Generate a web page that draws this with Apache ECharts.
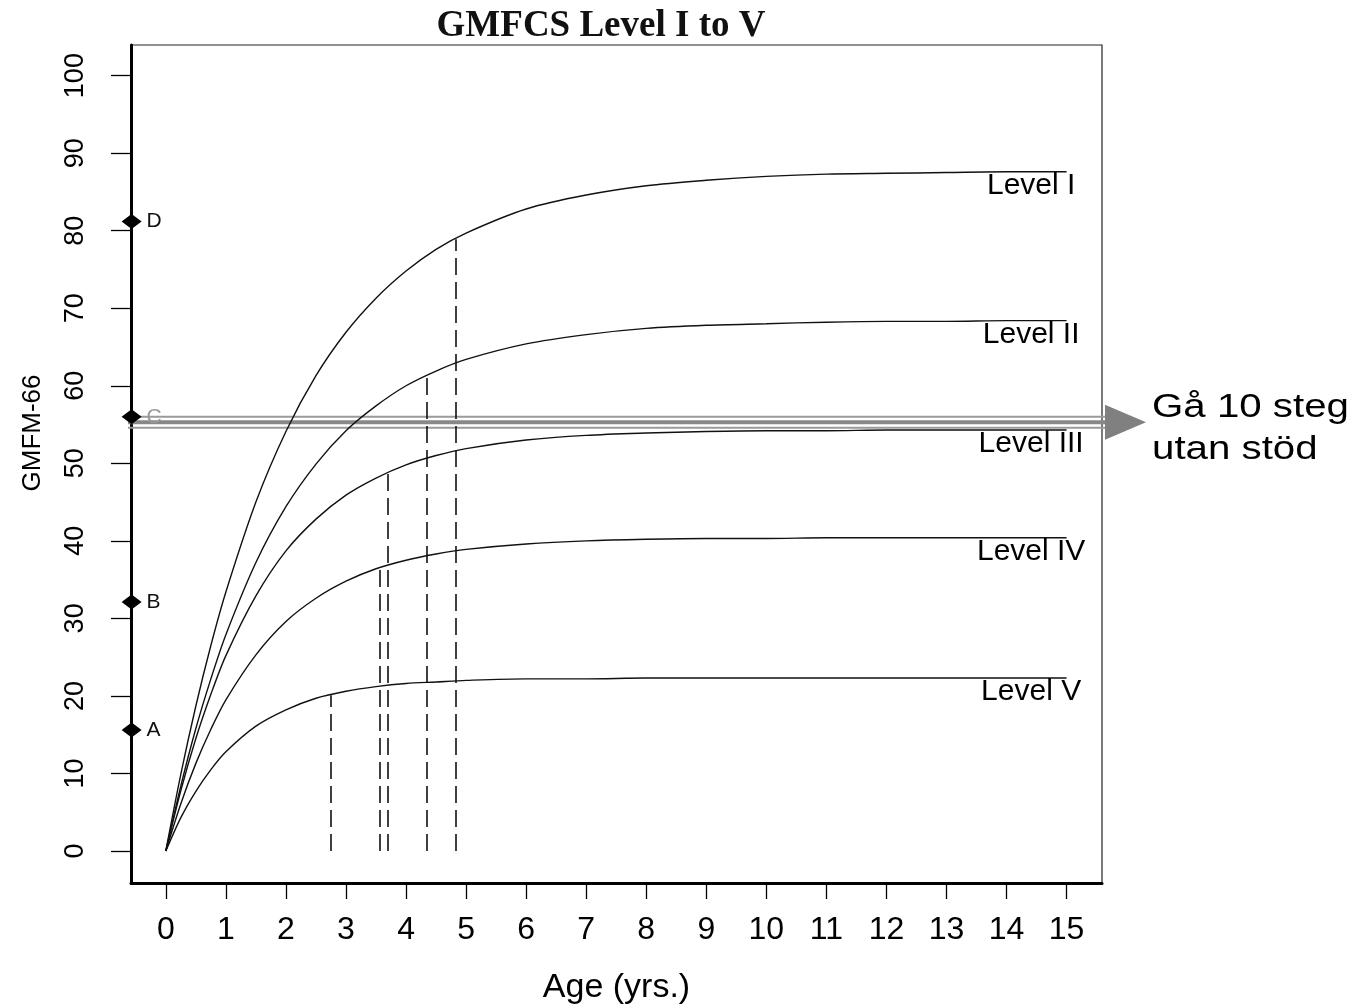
<!DOCTYPE html>
<html>
<head>
<meta charset="utf-8">
<title>GMFCS Level I to V</title>
<script src="https://cdn.jsdelivr.net/npm/echarts@6/dist/echarts.min.js"></script>
<style>
  html, body { margin: 0; padding: 0; background: #fff; }
  #chart { width: 1365px; height: 1004px; }
</style>
</head>
<body>
<div id="chart"></div>
<script>
var ages = [0, 0.25, 0.5, 0.75, 1, 1.5, 2, 2.5, 3, 3.5, 4, 4.5, 5, 6, 7, 8, 9, 10, 11, 12, 13, 14, 15];

// GMFM-66 per GMFCS level
var level1 = [0, 9.9, 18.7, 26.5, 33.4, 45.0, 54.1, 61.3, 66.9, 71.3, 74.8, 77.6, 79.7, 82.8, 84.6, 85.8, 86.5, 87.0, 87.3, 87.4, 87.5, 87.6, 87.6];
var level2 = [0, 8.4, 15.8, 22.2, 27.9, 37.2, 44.4, 49.9, 54.2, 57.4, 60.0, 61.9, 63.4, 65.4, 66.6, 67.4, 67.8, 68.0, 68.2, 68.3, 68.3, 68.4, 68.4];
var level3 = [0, 7.8, 14.5, 20.2, 25.2, 32.9, 38.7, 42.8, 45.9, 48.1, 49.8, 51.0, 51.9, 53.0, 53.6, 53.9, 54.1, 54.2, 54.2, 54.3, 54.3, 54.3, 54.3];
var level4 = [0, 6.1, 11.3, 15.7, 19.5, 25.3, 29.6, 32.6, 34.8, 36.4, 37.5, 38.3, 38.9, 39.6, 40.0, 40.2, 40.3, 40.3, 40.4, 40.4, 40.4, 40.4, 40.4];
var level5 = [0, 4.3, 7.7, 10.5, 12.8, 16.1, 18.2, 19.7, 20.6, 21.2, 21.6, 21.8, 22.0, 22.2, 22.2, 22.3, 22.3, 22.3, 22.3, 22.3, 22.3, 22.3, 22.3];
var levelNames = ['Level I', 'Level II', 'Level III', 'Level IV', 'Level V'];

// age where 90% of the limit is reached (dashed lines) and the score there
var age90 = [4.82, 4.35, 3.70, 3.56, 2.75];
var score90 = [78.9, 61.3, 48.8, 36.5, 20.1];

// items on the left axis
var itemNames = ['A', 'B', 'C', 'D'];
var itemScores = [15.6, 32.1, 56.0, 81.2];

// "walks 10 steps without support"
var walkLevel = 55.3;

var xTicks = [0, 1, 2, 3, 4, 5, 6, 7, 8, 9, 10, 11, 12, 13, 14, 15];
var yTicks = [0, 10, 20, 30, 40, 50, 60, 70, 80, 90, 100];

var xMin = -0.58, xMax = 15.59;
var yMin = -4.13, yMax = 103.95;
var labelAge = 14.41;

var sans = "'Liberation Sans', Arial, sans-serif";
var levels = [level1, level2, level3, level4, level5];

var series = levels.map(function (vals, i) {
  return {
    name: levelNames[i],
    type: 'line',
    data: ages.map(function (a, j) { return [a, vals[j]]; }),
    symbol: 'none',
    smooth: 0.3,
    lineStyle: { color: '#111', width: 1.4 },
    z: 3,
    markLine: {
      silent: true,
      symbol: ['none', 'none'],
      label: { show: false },
      lineStyle: { color: '#111', width: 1.6, type: [17, 7] },
      data: [[{ coord: [age90[i], 0] }, { coord: [age90[i], score90[i]] }]]
    },
    markPoint: {
      silent: true,
      symbol: 'rect',
      symbolSize: 0,
      itemStyle: { color: 'transparent' },
      data: [{
        coord: [labelAge, vals[vals.length - 1]],
        label: {
          show: true,
          position: 'bottom',
          distance: -1,
          formatter: levelNames[i],
          color: '#000',
          fontSize: 30,
          fontFamily: sans
        }
      }]
    }
  };
});

series.push({
  name: 'items',
  type: 'scatter',
  clip: false,
  symbol: 'diamond',
  symbolSize: [20, 15],
  itemStyle: { color: '#000', opacity: 1 },
  z: 4,
  label: {
    show: true,
    position: 'right',
    distance: 5,
    formatter: '{b}',
    fontSize: 21,
    fontFamily: sans,
    color: '#111'
  },
  data: itemNames.map(function (n, i) {
    var d = { name: n, value: [xMin + 0.01, itemScores[i]] };
    if (n === 'C') d.label = { color: '#999' };
    return d;
  })
});

var option = {
  backgroundColor: '#fff',
  animation: false,
  title: {
    text: 'GMFCS Level I to V',
    left: 601,
    textAlign: 'center',
    top: 8,
    padding: 0,
    textStyle: {
      fontFamily: "'Liberation Serif', 'Times New Roman', serif",
      fontWeight: 'bold',
      fontSize: 37,
      color: '#111'
    }
  },
  grid: {
    left: 131,
    right: 263,
    top: 45,
    bottom: 121,
    outerBoundsMode: 'none',
    show: true,
    borderColor: '#222',
    borderWidth: 1.2
  },
  xAxis: {
    type: 'value',
    min: xMin,
    max: xMax,
    name: 'Age (yrs.)',
    nameLocation: 'middle',
    nameGap: 88,
    nameTextStyle: { fontSize: 34, color: '#000', fontFamily: sans },
    axisLine: { show: true, onZero: false, lineStyle: { color: '#000', width: 3 } },
    axisTick: { show: true, length: 16, customValues: xTicks, lineStyle: { color: '#000', width: 1.3 } },
    axisLabel: { customValues: xTicks, fontSize: 32, color: '#000', margin: 31, fontFamily: sans },
    splitLine: { show: false }
  },
  yAxis: {
    type: 'value',
    min: yMin,
    max: yMax,
    name: 'GMFM-66',
    nameLocation: 'middle',
    nameGap: 85,
    nameTextStyle: { fontSize: 26, color: '#000', fontFamily: sans, padding: [0, 0, 0, 62] },
    axisLine: { show: true, onZero: false, lineStyle: { color: '#000', width: 3 } },
    axisTick: { show: true, length: 20, customValues: yTicks, lineStyle: { color: '#000', width: 1.3 } },
    axisLabel: { customValues: yTicks, rotate: 90, fontSize: 27, color: '#000', margin: 42, fontFamily: sans },
    splitLine: { show: false }
  },
  series: series
};

var chart = echarts.init(document.getElementById('chart'));
chart.setOption(option);

// arrow for "Gå 10 steg utan stöd", placed from the axis scales
var pL = chart.convertToPixel({ gridIndex: 0 }, [xMin, walkLevel]);
var pR = chart.convertToPixel({ gridIndex: 0 }, [xMax, walkLevel]);
var yc = pL[1];
var x0 = pL[0] - 3;
var x1 = pR[0] + 3;

chart.setOption({
  graphic: [
    { type: 'line', z: 1, shape: { x1: x0, y1: yc - 5.5, x2: x1, y2: yc - 5.5 }, style: { stroke: '#9a9a9a', lineWidth: 2 } },
    { type: 'line', z: 1, shape: { x1: x0, y1: yc, x2: x1, y2: yc }, style: { stroke: '#888', lineWidth: 4 } },
    { type: 'line', z: 1, shape: { x1: x0, y1: yc + 5.5, x2: x1, y2: yc + 5.5 }, style: { stroke: '#9a9a9a', lineWidth: 2 } },
    { type: 'polygon', z: 1, shape: { points: [[x1, yc - 17.5], [x1 + 41, yc], [x1, yc + 17.5]] }, style: { fill: '#808080' } },
    {
      type: 'text',
      z: 5,
      x: x1 + 47,
      y: yc + 7,
      scaleX: 1.22,
      style: {
        text: 'Gå 10 steg\nutan stöd',
        fontSize: 33,
        fontFamily: sans,
        fill: '#000',
        lineHeight: 42,
        align: 'left',
        verticalAlign: 'middle'
      }
    }
  ]
});

window.addEventListener('resize', function () {
  chart.resize();
});
</script>
</body>
</html>
